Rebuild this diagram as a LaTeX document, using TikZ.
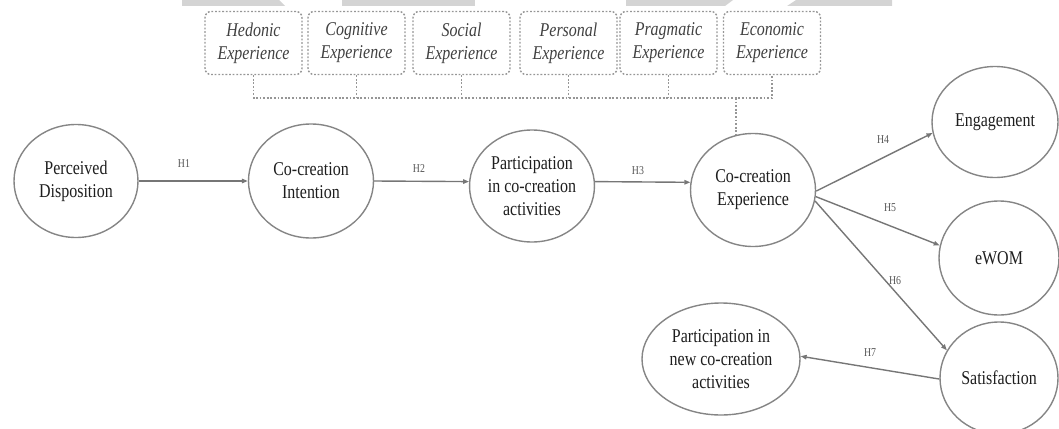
\documentclass[tikz,border=0pt]{standalone}
\usepackage{fontspec}
\setmainfont[FakeStretch=0.82]{Liberation Serif}
\usetikzlibrary{shapes.geometric,arrows.meta}

\definecolor{rimgray}{HTML}{858585}
\definecolor{linkgray}{HTML}{767676}
\definecolor{dashgray}{HTML}{969696}
\definecolor{inkgray}{HTML}{1E1E1E}
\definecolor{barfill}{HTML}{D4D4D4}

\tikzset{
  construct/.style={ellipse, draw=rimgray, line width=1.4pt, inner sep=0pt,
    align=center, text=inkgray, font=\fontsize{19.5}{23}\selectfont},
  facet/.style={rectangle, rounded corners=6pt, draw=dashgray, line width=1.4pt,
    dash pattern=on 1.8pt off 1.8pt, minimum width=97pt, minimum height=63pt,
    inner sep=0pt, align=center, text=inkgray!85,
    font=\fontsize{19.5}{23}\selectfont\itshape},
  bus/.style={draw=dashgray, line width=1.4pt, dash pattern=on 1.8pt off 1.8pt},
  path/.style={draw=linkgray, line width=1.4pt,
    -{Triangle[length=6pt,width=4.5pt]}},
  hyp/.style={text=inkgray!75, font=\fontsize{12}{14}\selectfont, inner sep=0pt}
}

\begin{document}
\begin{tikzpicture}[x=1pt,y=-1pt]
\useasboundingbox (0,0) rectangle (1059,428);

% light bars along the top edge
\fill[barfill] (182,0) -- (279,0) -- (285,6) -- (182,6) -- cycle;
\fill[barfill] (342,0) rectangle (475,6);
\fill[barfill] (626,0) -- (733,0) -- (725,6) -- (626,6) -- cycle;
\fill[barfill] (796,0) -- (892,0) -- (892,6) -- (787,6) -- cycle;

% experience dimensions
\node[facet] (hed) at (253.5,43) {Hedonic\\Experience};
\node[facet] (cog) at (356.5,43) {Cognitive\\Experience};
\node[facet] (soc) at (461.5,43) {Social\\Experience};
\node[facet] (per) at (568.5,43) {Personal\\Experience};
\node[facet] (pra) at (668.5,43) {Pragmatic\\Experience};
\node[facet] (eco) at (772,43) {Economic\\Experience};

% constructs
\node[construct, minimum width=124pt, minimum height=113pt] (pd)  at (76,181)  {Perceived\\Disposition};
\node[construct, minimum width=125pt, minimum height=114pt] (ci)  at (311,181) {Co-creation\\Intention};
\node[construct, minimum width=124pt, minimum height=112pt] (pca) at (532,186) {Participation\\in co-creation\\activities};
\node[construct, minimum width=125pt, minimum height=113pt] (ce)  at (753,190) {Co-creation\\Experience};
\node[construct, minimum width=126pt, minimum height=111pt] (eng) at (995,122) {Engagement};
\node[construct, minimum width=120pt, minimum height=114pt] (ewom) at (999,258) {eWOM};
\node[construct, minimum width=118pt, minimum height=112pt] (sat) at (999,378) {Satisfaction};
\node[construct, minimum width=158pt, minimum height=112pt] (pnew) at (721,359) {Participation in\\new co-creation\\activities};

% dimensions bracket feeding the experience construct
\coordinate (busR) at (772,98);
\coordinate (drop) at (ce.107 |- busR);
\draw[bus] (hed.south) |- (busR) -- (eco.south);
\draw[bus] (cog.south) -- (cog.south |- busR);
\draw[bus] (soc.south) -- (soc.south |- busR);
\draw[bus] (per.south) -- (per.south |- busR);
\draw[bus] (pra.south) -- (pra.south |- busR);
\draw[bus] (drop) -- (ce.107);

% hypothesised paths
\draw[path] (pd.east) -- (ci.west);
\draw[path] (ci.east) -- (pca.176);
\draw[path] (pca.4) -- (ce.173);
\draw[path] (ce.-1) -- (eng.190);
\draw[path] (ce.-6) -- (ewom.168);
\draw[path] (ce.-10) -- (sat.152);
\draw[path] (sat.181) -- (pnew.2);

% path labels
\node[hyp] (h1) at (184,164) {H1};
\node[hyp] (h2) at (419,169) {H2};
\node[hyp] (h3) at (638,171) {H3};
\node[hyp] (h4) at (883,140) {H4};
\node[hyp] (h5) at (890,208) {H5};
\node[hyp] (h6) at (895,281) {H6};
\node[hyp] (h7) at (870,353) {H7};
\end{tikzpicture}
\end{document}
